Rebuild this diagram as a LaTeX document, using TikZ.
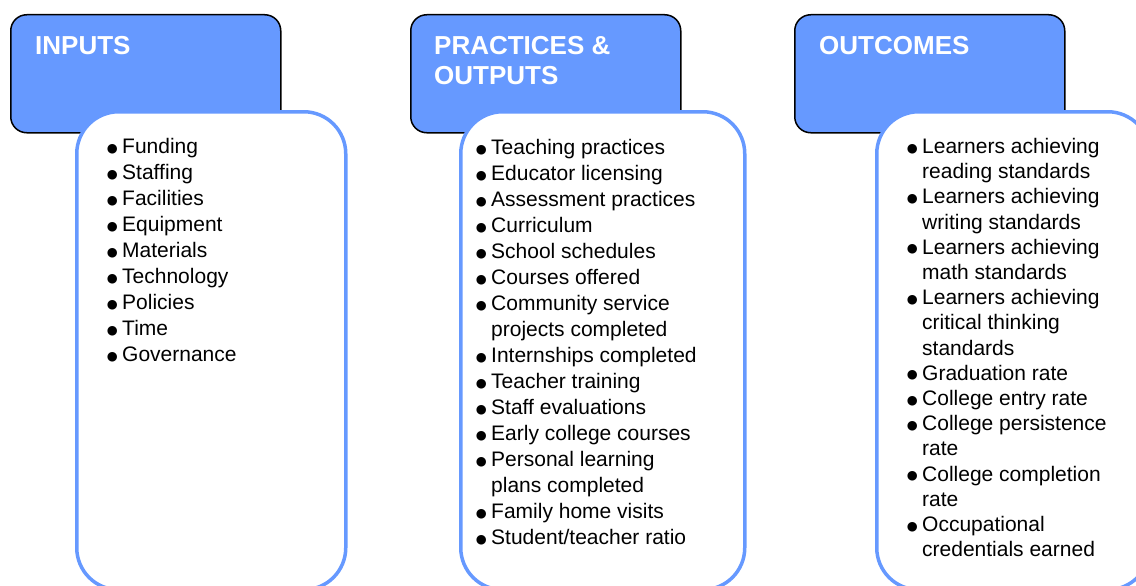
\documentclass[tikz,border=0pt]{standalone}
\usepackage{fontspec}
\setmainfont{Liberation Sans}
\newfontfamily\dotfont{DejaVu Sans}
\definecolor{hdrblue}{RGB}{102,153,255}
\newcommand\bdot{\raisebox{1.3pt}{\dotfont\fontsize{12.5}{12.5}\selectfont ●}}
\newcommand\bitem[1]{\makebox[16pt][l]{\hspace{0.7pt}\bdot}#1}
\newcommand\bcont[1]{\hspace*{16pt}#1}
\begin{document}
\begin{tikzpicture}
    [x=1pt,y=-1pt,
     head/.style={draw=black,line width=1.5pt,fill=hdrblue,rounded corners=16pt,
       anchor=north west,minimum width=270pt,minimum height=118pt,inner sep=0pt},
     headtext/.style={anchor=north west,inner sep=0pt,align=left,text=white,
       font=\bfseries\fontsize{26}{30}\selectfont},
     card/.style={draw=hdrblue,line width=3.5pt,fill=white,rounded corners=42pt,
       anchor=north west,minimum height=478pt,inner sep=0pt},
     list/.style={anchor=north west,inner sep=0pt,align=left,
       font=\fontsize{21}{26}\selectfont}]
    \useasboundingbox (0,0) rectangle (1136,586);
    % header boxes
    \node [head] (inhead) at (10,14) {};
    \node [head] (prhead) at (410,14) {};
    \node [head] (outhead) at (794,14) {};
    \node [headtext] (intitle) at (35,36) {INPUTS};
    \node [headtext] (prtitle) at (434,36) {PRACTICES \&\\OUTPUTS};
    \node [headtext] (outtitle) at (819,36) {OUTCOMES};
    % list cards
    \node [card,minimum width=269pt] (incard) at (75,110) {};
    \node [card,minimum width=284pt] (prcard) at (459,110) {};
    \node [card,minimum width=273pt] (outcard) at (875,110) {};
    \node [list] (inlist) at (106,138) {
      \bitem{Funding}\\ \bitem{Staffing}\\ \bitem{Facilities}\\
      \bitem{Equipment}\\ \bitem{Materials}\\ \bitem{Technology}\\
      \bitem{Policies}\\ \bitem{Time}\\ \bitem{Governance}};
    \node [list] (prlist) at (475,139) {
      \bitem{Teaching practices}\\ \bitem{Educator licensing}\\
      \bitem{Assessment practices}\\ \bitem{Curriculum}\\
      \bitem{School schedules}\\ \bitem{Courses offered}\\
      \bitem{Community service}\\ \bcont{projects completed}\\
      \bitem{Internships completed}\\ \bitem{Teacher training}\\
      \bitem{Staff evaluations}\\ \bitem{Early college courses}\\
      \bitem{Personal learning}\\ \bcont{plans completed}\\
      \bitem{Family home visits}\\ \bitem{Student/teacher ratio}};
    \node [list,font=\fontsize{21}{25.2}\selectfont] (outlist) at (906,138) {
      \bitem{Learners achieving}\\ \bcont{reading standards}\\
      \bitem{Learners achieving}\\ \bcont{writing standards}\\
      \bitem{Learners achieving}\\ \bcont{math standards}\\
      \bitem{Learners achieving}\\ \bcont{critical thinking}\\
      \bcont{standards}\\ \bitem{Graduation rate}\\
      \bitem{College entry rate}\\ \bitem{College persistence}\\
      \bcont{rate}\\ \bitem{College completion}\\ \bcont{rate}\\
      \bitem{Occupational}\\ \bcont{credentials earned}};
\end{tikzpicture}
\end{document}
